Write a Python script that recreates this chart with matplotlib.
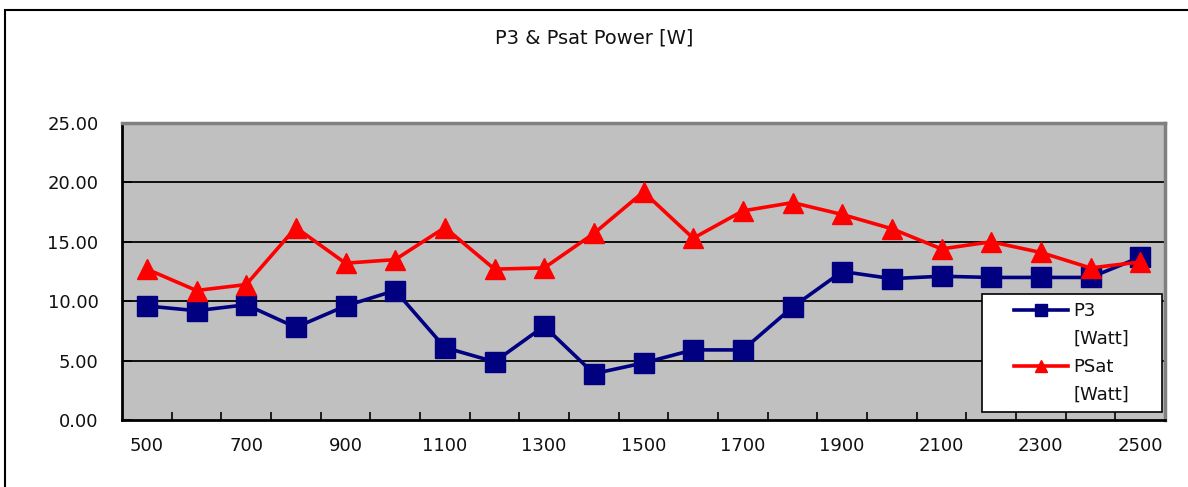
import matplotlib
matplotlib.use("Agg")
import matplotlib.pyplot as plt
from matplotlib.lines import Line2D
from matplotlib.patches import Rectangle
from matplotlib.legend_handler import HandlerLine2D

frequencies = [500, 600, 700, 800, 900, 1000, 1100, 1200, 1300, 1400, 1500,
               1600, 1700, 1800, 1900, 2000, 2100, 2200, 2300, 2400, 2500]
p3_watt = [9.6, 9.2, 9.7, 7.8, 9.6, 10.9, 6.1, 4.9, 7.9, 3.9, 4.8,
           5.9, 5.9, 9.5, 12.5, 11.9, 12.1, 12.0, 12.0, 12.0, 13.7]
psat_watt = [12.7, 10.9, 11.4, 16.2, 13.2, 13.5, 16.2, 12.7, 12.8, 15.7, 19.2,
             15.3, 17.6, 18.3, 17.3, 16.1, 14.4, 15.0, 14.1, 12.8, 13.3]
y_ticks = [0, 5, 10, 15, 20, 25]
title = "P3 & Psat Power [W]"
labels = ["P3", "PSat"]
unit = "[Watt]"

plt.rcParams['font.family'] = ['DejaVu Sans']
W, H = 1188, 487
fig = plt.figure(figsize=(W / 100, H / 100), dpi=100)
fig.patch.set_facecolor('white')

# outer chart frame
fig.patches.append(Rectangle((5 / W, -0.5), 2.0, 0.5 + (1 - 10 / H),
                             transform=fig.transFigure, fill=False,
                             edgecolor='black', linewidth=1.5, zorder=0))

ax = fig.add_axes([122 / W, 1 - 420 / H, (1165 - 122) / W, (420 - 123) / H])
ax.set_facecolor('#C0C0C0')

x = list(range(len(frequencies)))
ax.set_xlim(-0.5, len(frequencies) - 0.5)
ax.set_ylim(0, 25)

for yv in y_ticks[1:-1]:
    ax.axhline(yv, color='black', linewidth=1.3, zorder=1)

l1, = ax.plot(x, p3_watt, color='#000080', linewidth=2.6, marker='s',
              markersize=14, markerfacecolor='#000080', markeredgecolor='#000080',
              zorder=3)
l2, = ax.plot(x, psat_watt, color='#FF0000', linewidth=2.6, marker='^',
              markersize=15, markerfacecolor='#FF0000', markeredgecolor='#FF0000',
              zorder=4)

ax.set_yticks(y_ticks)
ax.set_yticklabels([f"{v:.2f}" for v in y_ticks], fontsize=13, color='#111111')
ax.set_xticks(x[::2])
ax.set_xticklabels([str(f) for f in frequencies[::2]], fontsize=13, color='#111111')
ax.set_xticks([i + 0.5 for i in x[:-1]], minor=True)
ax.tick_params(axis='x', which='major', length=0, pad=12)
ax.tick_params(axis='x', which='minor', direction='in', length=6, width=1.2)
ax.tick_params(axis='y', which='major', direction='in', length=7, width=1.2, pad=17)

for s in ['left', 'bottom']:
    ax.spines[s].set_color('black')
    ax.spines[s].set_linewidth(2)
for s in ['top', 'right']:
    ax.spines[s].set_color('#808080')
    ax.spines[s].set_linewidth(2.5)

fig.text(0.5, 1 - 38 / H, title, ha='center', va='center', fontsize=14, color='#111111')


class ShiftedLineHandler(HandlerLine2D):
    def __init__(self, offset_em, **kw):
        super().__init__(**kw)
        self.offset_em = offset_em

    def create_artists(self, legend, orig_handle, xdescent, ydescent, width,
                       height, fontsize, trans):
        off = self.offset_em * fontsize
        return super().create_artists(legend, orig_handle, xdescent - off,
                                      ydescent, width - off, height, fontsize, trans)


blank = Line2D([], [], linestyle='none')
hm = {l1: ShiftedLineHandler(1.33), l2: ShiftedLineHandler(1.33)}
leg = ax.legend([l1, blank, l2, blank], [labels[0], unit, labels[1], unit],
                loc='upper left', mode='expand',
                bbox_to_anchor=((982 - 122) / 1043, (420 - 297) / 297, 180 / 1043, 0.01),
                fontsize=13, frameon=True, fancybox=False, framealpha=1,
                edgecolor='black', handlelength=4.33, handletextpad=0.28,
                labelspacing=0.55, borderpad=0.45, borderaxespad=0,
                markerscale=0.62, handler_map=hm)
leg.get_frame().set_linewidth(1.2)
leg.set_zorder(10)
for t in leg.get_texts():
    t.set_color('#111111')

fig.savefig("out.png", dpi=100)
